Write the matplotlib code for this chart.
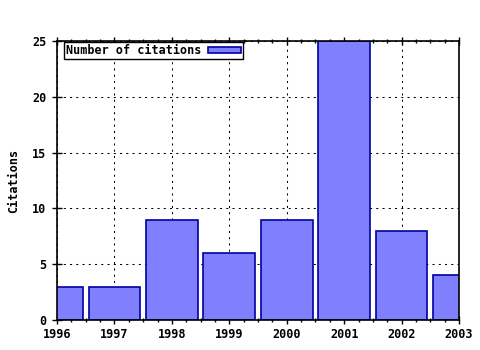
import matplotlib
matplotlib.use("Agg")
import matplotlib.pyplot as plt
import numpy as np

years = [1996, 1997, 1998, 1999, 2000, 2001, 2002, 2003]
citations = [3, 3, 9, 6, 9, 25, 8, 4]
yticks = [0, 5, 10, 15, 20, 25]

plt.rcParams["font.family"] = "DejaVu Sans Mono"
plt.rcParams["font.weight"] = "bold"
plt.rcParams["axes.labelweight"] = "bold"
plt.rcParams["font.size"] = 8.5

fig = plt.figure(figsize=(4.8, 3.5), dpi=100)
ax = fig.add_axes([57 / 480, 30 / 350, 402 / 480, 279 / 350])

ax.bar(years, citations, width=0.9, color="#8080ff", edgecolor="#0000a0",
       linewidth=1.2, label="Number of citations", zorder=2)

ax.set_xlim(1996, 2003)
ax.set_ylim(0, 25)
ax.set_xticks(years)
ax.set_xticks(np.arange(1996, 2003.01, 0.25), minor=True)
ax.set_yticks(yticks)
ax.grid(True, color="black", linestyle=(0, (2, 4)), linewidth=0.75, zorder=0)
ax.set_axisbelow(True)

ax.tick_params(axis="x", which="both", direction="inout", top=True, bottom=True,
               length=6, width=1, pad=3)
ax.tick_params(axis="x", which="minor", length=3)
ax.tick_params(axis="y", which="both", direction="inout", left=True, right=False,
               length=7, width=1, pad=4)
for s in ax.spines.values():
    s.set_linewidth(1.2)

ax.set_ylabel("Citations", labelpad=9)

leg = ax.legend(loc="upper left", bbox_to_anchor=(0.017, 0.995), frameon=True,
                fancybox=False, edgecolor="black", framealpha=1,
                borderpad=0.15, handlelength=2.8, handleheight=0.5,
                handletextpad=0.6, borderaxespad=0, markerfirst=False)
leg.get_frame().set_linewidth(1.0)

fig.savefig("out.png", dpi=100)
